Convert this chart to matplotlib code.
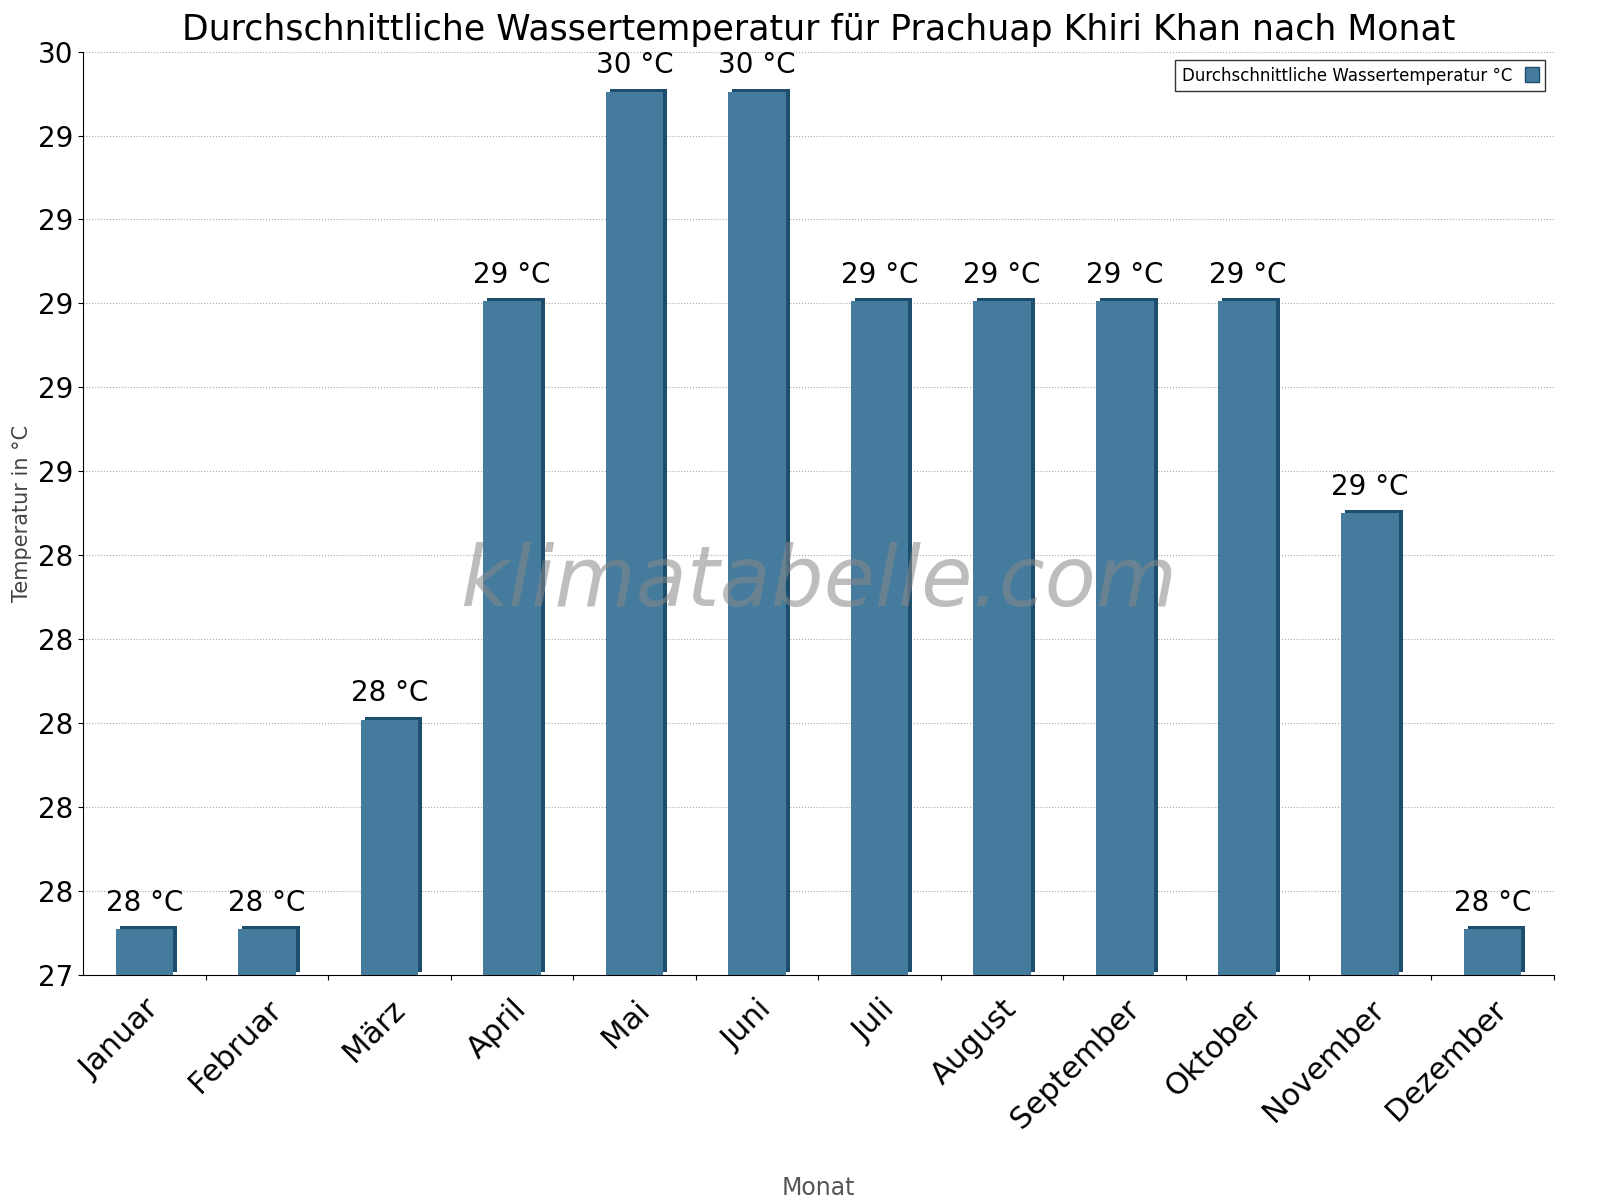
import matplotlib
matplotlib.use("Agg")
import matplotlib.pyplot as plt
import matplotlib.transforms as mt
from matplotlib.patches import Patch

months = ["Januar","Februar","März","April","Mai","Juni","Juli","August","September","Oktober","November","Dezember"]
values = [27.15, 27.15, 27.83, 29.19, 29.87, 29.87, 29.19, 29.19, 29.19, 29.19, 28.5, 27.15]
labels = ["28 °C","28 °C","28 °C","29 °C","30 °C","30 °C","29 °C","29 °C","29 °C","29 °C","29 °C","28 °C"]
ytick_vals = [27 + 3*i/11 for i in range(12)]
ytick_labels = ["27","28","28","28","28","28","29","29","29","29","29","30"]

fig = plt.figure(figsize=(16, 12), dpi=100)
ax = fig.add_axes([0.052, 0.1875, 0.919, 0.7695])
x = list(range(12))
dark = "#1d4e6e"; main = "#457b9d"
sh = mt.offset_copy(ax.transData, fig=fig, x=4, y=3, units="dots")
ax.bar(x, [v-27 for v in values], bottom=27, width=0.47, color=dark, transform=sh, zorder=2)
ax.bar(x, [v-27 for v in values], bottom=27, width=0.47, color=main, zorder=3)
for xi, v, l in zip(x, values, labels):
    ax.text(xi, v + 0.04, l, ha="center", va="bottom", fontsize=20, zorder=4)
ax.set_xlim(-0.5, 11.5)
ax.set_ylim(27, 30)
ax.set_yticks(ytick_vals)
ax.set_yticklabels(ytick_labels, fontsize=20)
ax.set_xticks([i + 0.5 for i in range(12)], minor=False)
ax.set_xticklabels([])
ax.set_xticks(x, minor=True)
ax.set_xticklabels(months, minor=True, rotation=45, ha="right", rotation_mode="anchor", fontsize=22)
ax.tick_params(axis="x", which="minor", length=0, pad=14)
ax.grid(axis="y", linestyle=":", color="#aaaaaa", zorder=0)
for s in ["top", "right"]:
    ax.spines[s].set_visible(False)
ax.set_ylabel("Temperatur in °C", fontsize=15, color="#444444")
ax.set_xlabel("Monat", fontsize=17, color="#555555", labelpad=30)
ax.set_title("Durchschnittliche Wassertemperatur für Prachuap Khiri Khan nach Monat", fontsize=25, pad=8)
ax.text(0.5, 0.425, "klimatabelle.com", transform=ax.transAxes, ha="center", va="center",
        fontsize=60, style="italic", color="#888888", alpha=0.55, zorder=5)
leg = ax.legend(handles=[Patch(facecolor=main, edgecolor=dark)], labels=["Durchschnittliche Wassertemperatur °C"],
                loc="upper right", markerfirst=False, fontsize=12, fancybox=False, edgecolor="black",
                handlelength=0.8, handleheight=1.0, bbox_to_anchor=(1.0, 1.0))
leg.get_frame().set_linewidth(1)
fig.savefig("out.png")
